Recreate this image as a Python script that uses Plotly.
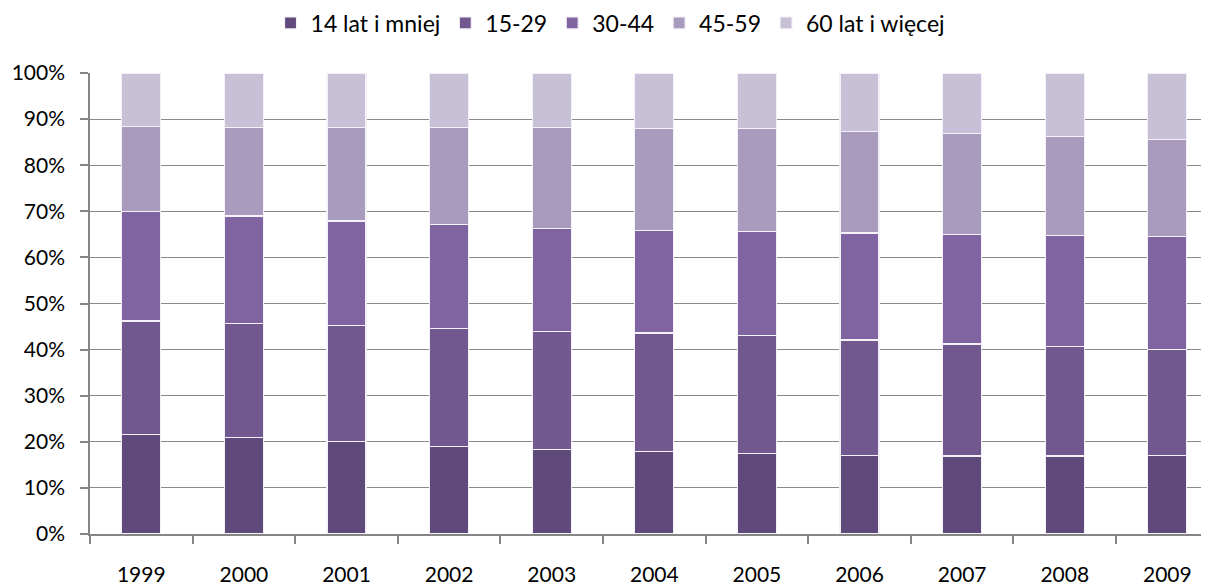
import plotly.graph_objects as go

years = ["1999", "2000", "2001", "2002", "2003", "2004", "2005", "2006", "2007", "2008", "2009"]
series_names = ["14 lat i mniej", "15-29", "30-44", "45-59", "60 lat i więcej"]
s_0_14 = [21.6, 20.9, 20.0, 19.0, 18.3, 17.9, 17.4, 17.1, 16.9, 16.9, 17.1]
s_15_29 = [24.6, 24.7, 25.2, 25.6, 25.7, 25.7, 25.6, 25.0, 24.3, 23.8, 23.0]
s_30_44 = [23.8, 23.4, 22.7, 22.6, 22.2, 22.2, 22.6, 23.2, 23.7, 24.0, 24.4]
s_45_59 = [18.4, 19.2, 20.3, 20.9, 21.9, 22.2, 22.4, 22.0, 21.9, 21.5, 21.0]
s_60 = [11.6, 11.8, 11.8, 11.9, 11.9, 12.0, 12.0, 12.7, 13.2, 13.8, 14.5]
colors = ["#604A7B", "#71588F", "#8064A2", "#A99BBD", "#C8C0D6"]

all_series = [s_0_14, s_15_29, s_30_44, s_45_59, s_60]

fig = go.Figure()
for name, vals, col in zip(series_names, all_series, colors):
    fig.add_trace(go.Bar(
        x=years, y=[v / 100 for v in vals], name=name,
        marker=dict(color=col, line=dict(color="#F4F2F8", width=1.2)),
    ))

FONT = "Lato, 'Open Sans', sans-serif"
fig.update_layout(
    barmode="stack",
    bargap=0.62,
    width=1201, height=577,
    margin=dict(l=82, r=0, t=65, b=51, autoexpand=False),
    paper_bgcolor="white", plot_bgcolor="white",
    font=dict(family=FONT, size=21, color="#000000"),
    legend=dict(orientation="h", xref="container", x=0.5017, xanchor="center",
                yref="container", y=0.974, yanchor="middle",
                font=dict(family=FONT, size=23), traceorder="normal"),
    showlegend=True,
)
fig.update_xaxes(
    type="category",
    range=[-0.5, 10.406],
    automargin=False,
    showline=True, linecolor="#868686", linewidth=1.5,
    ticks="outside", tickson="boundaries", ticklen=8, tickcolor="#868686", tickwidth=1.5,
    ticklabelstandoff=21,
    showgrid=False,
    tickfont=dict(family=FONT, size=21),
)
fig.update_yaxes(
    range=[0, 1], dtick=0.1, tickformat=".0%",
    automargin=False,
    showline=True, linecolor="#868686", linewidth=1.5,
    ticks="outside", ticklen=8, tickcolor="#868686", tickwidth=1.5,
    ticklabelstandoff=11,
    showgrid=True, gridcolor="#8A8A8A", gridwidth=1.2,
    zeroline=False,
    tickfont=dict(family=FONT, size=21),
)

fig.write_html("out.html")
